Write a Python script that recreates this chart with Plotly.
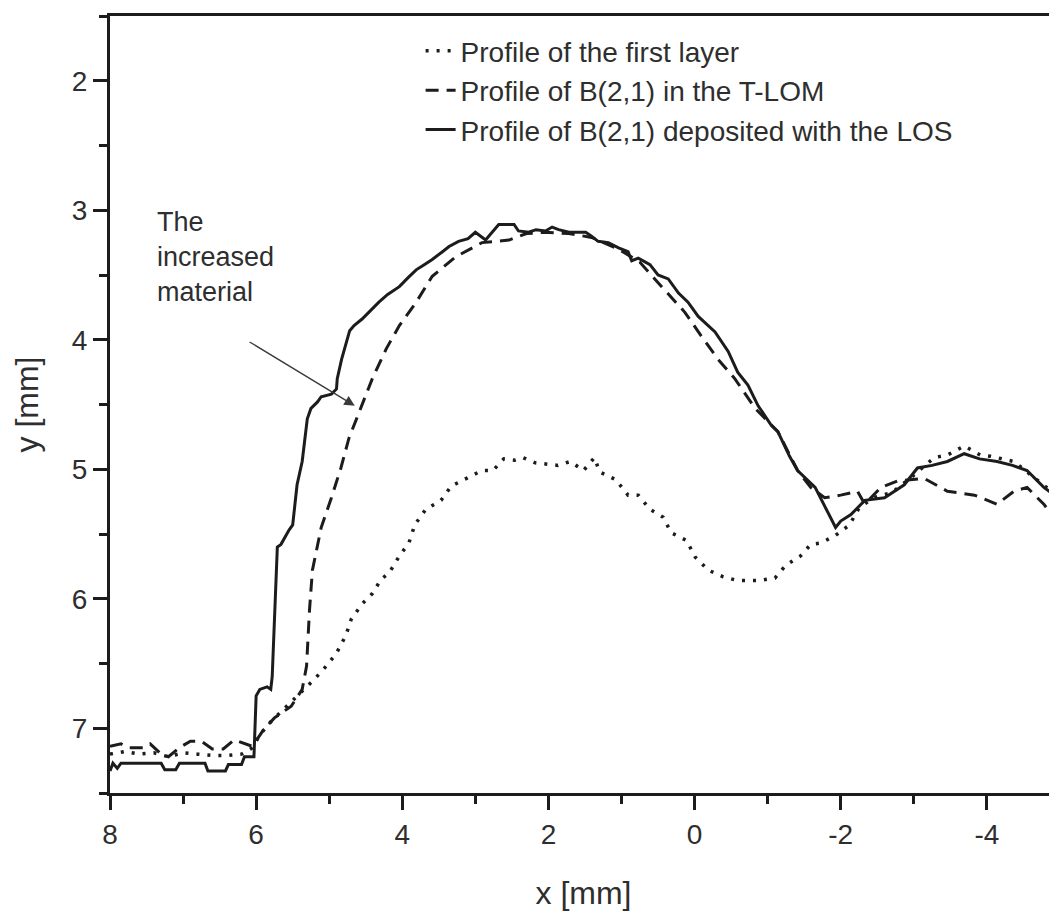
import plotly.graph_objects as go

# ---- data ----
los_x = [8.00, 7.96, 7.90, 7.85, 7.30, 7.25, 7.10, 7.05, 6.70, 6.66, 6.42, 6.38, 6.20, 6.16, 6.03,
         6.00, 5.95, 5.85, 5.80, 5.78, 5.71, 5.66, 5.55, 5.50, 5.44, 5.37, 5.30, 5.25, 5.16, 5.11,
         4.97, 4.90, 4.89, 4.83, 4.72, 4.66, 4.55, 4.45, 4.32, 4.20, 4.04, 3.92, 3.81, 3.70, 3.59,
         3.45, 3.36, 3.23, 3.10, 3.00, 2.86, 2.68, 2.47, 2.41, 2.27, 2.17, 2.04, 1.95, 1.86, 1.72,
         1.49, 1.41, 1.32, 1.18, 1.04, 0.91, 0.86, 0.77, 0.61, 0.50, 0.36, 0.22, 0.09, -0.05, -0.16,
         -0.28, -0.46, -0.59, -0.73, -0.87, -1.05, -1.14, -1.30, -1.41, -1.65, -1.80, -1.93, -2.00,
         -2.14, -2.33, -2.60, -2.87, -3.05, -3.25, -3.46, -3.69, -3.90, -4.14, -4.35, -4.55, -4.78, -4.95]
los_y = [7.33, 7.27, 7.31, 7.27, 7.27, 7.32, 7.32, 7.27, 7.27, 7.33, 7.33, 7.28, 7.28, 7.22, 7.22,
         6.75, 6.70, 6.68, 6.70, 6.60, 5.60, 5.58, 5.47, 5.43, 5.12, 4.94, 4.61, 4.53, 4.48, 4.44,
         4.42, 4.38, 4.30, 4.15, 3.93, 3.89, 3.84, 3.78, 3.71, 3.65, 3.59, 3.52, 3.46, 3.42, 3.38,
         3.32, 3.28, 3.24, 3.22, 3.17, 3.23, 3.11, 3.11, 3.16, 3.17, 3.15, 3.16, 3.13, 3.15, 3.17,
         3.17, 3.20, 3.24, 3.25, 3.29, 3.32, 3.39, 3.37, 3.42, 3.50, 3.53, 3.64, 3.71, 3.82, 3.88,
         3.94, 4.09, 4.25, 4.35, 4.51, 4.66, 4.71, 4.90, 5.01, 5.14, 5.30, 5.45, 5.40,
         5.35, 5.24, 5.22, 5.12, 4.99, 4.97, 4.94, 4.88, 4.92, 4.94, 4.97, 5.01, 5.14, 5.21]

tlom_x = [8.00, 7.85, 7.75, 7.55, 7.45, 7.30, 7.20, 7.05, 6.90, 6.75, 6.60, 6.45, 6.30, 6.15, 6.05,
          5.91, 5.75, 5.52, 5.37, 5.31, 5.27, 5.23, 5.11, 4.97, 4.84, 4.73, 4.56, 4.41, 4.22, 4.04,
          3.81, 3.59, 3.27, 2.91, 2.71, 2.54, 2.30, 2.04, 1.72, 1.41, 1.04, 0.75, 0.45, 0.13, -0.09,
          -0.32, -0.55, -0.83, -1.14, -1.41, -1.59, -1.78, -2.00, -2.23, -2.33, -2.55, -2.78, -3.14,
          -3.46, -3.83, -4.14, -4.37, -4.55, -4.78, -4.95]
tlom_y = [7.14, 7.12, 7.15, 7.15, 7.12, 7.20, 7.22, 7.15, 7.10, 7.10, 7.16, 7.16, 7.09, 7.12, 7.14,
          7.02, 6.92, 6.83, 6.70, 6.52, 6.09, 5.78, 5.45, 5.22, 4.99, 4.76, 4.51, 4.30, 4.07, 3.89,
          3.71, 3.51, 3.36, 3.25, 3.24, 3.23, 3.18, 3.17, 3.18, 3.21, 3.30, 3.40, 3.59, 3.79, 3.97,
          4.15, 4.30, 4.53, 4.71, 5.01, 5.14, 5.22, 5.20, 5.17, 5.27, 5.14, 5.09, 5.07,
          5.17, 5.20, 5.27, 5.17, 5.14, 5.27, 5.40]

first_x = [8.00, 7.80, 7.60, 7.40, 7.20, 7.00, 6.80, 6.60, 6.40, 6.20, 6.05, 5.95, 5.80, 5.60, 5.41,
           5.20, 5.04, 4.90, 4.77, 4.70, 4.55, 4.41, 4.29, 4.18, 4.04, 3.91, 3.83, 3.68, 3.47, 3.33,
           3.12, 2.91, 2.76, 2.61, 2.46, 2.35, 2.18, 2.04, 1.87, 1.70, 1.52, 1.37, 1.30, 1.08, 0.91,
           0.77, 0.61, 0.43, 0.32, 0.11, -0.01, -0.19, -0.39, -0.59, -0.87, -1.10, -1.25, -1.45,
           -1.59, -1.73, -1.93, -2.12, -2.25, -2.45, -2.70, -2.95, -3.28, -3.46, -3.69, -3.91, -4.05,
           -4.37, -4.60, -4.82, -4.95]
first_y = [7.20, 7.18, 7.20, 7.19, 7.22, 7.19, 7.20, 7.21, 7.21, 7.20, 7.15, 7.05, 6.95, 6.84, 6.73,
           6.62, 6.52, 6.42, 6.28, 6.16, 6.04, 5.96, 5.85, 5.80, 5.67, 5.57, 5.43, 5.31, 5.24, 5.13,
           5.07, 5.01, 5.01, 4.92, 4.93, 4.91, 4.95, 4.96, 4.97, 4.94, 5.01, 4.91, 5.02, 5.08, 5.20,
           5.20, 5.31, 5.37, 5.49, 5.55, 5.68, 5.78, 5.83, 5.86, 5.86, 5.84, 5.74, 5.67,
           5.58, 5.57, 5.51, 5.43, 5.30, 5.22, 5.18, 5.07, 4.91, 4.89, 4.82, 4.89, 4.90,
           4.94, 5.04, 5.14, 5.20]

names = ["Profile of the first layer",
         "Profile of B(2,1) in the T-LOM",
         "Profile of B(2,1) deposited with the LOS"]

x_ticks = [8, 6, 4, 2, 0, -2, -4]
y_ticks = [2, 3, 4, 5, 6, 7]

annot_text = "The<br>increased<br>material"

# ---- figure ----
INK = "#1c1c1c"
TXT = "#2e2e2e"
FONT = "Liberation Sans, Arial, sans-serif"

fig = go.Figure()
fig.add_trace(go.Scatter(x=first_x, y=first_y, mode="lines", name=names[0],
                         line=dict(color=INK, width=3.5, dash="3px,8px")))
fig.add_trace(go.Scatter(x=tlom_x, y=tlom_y, mode="lines", name=names[1],
                         line=dict(color=INK, width=3, dash="13px,8px")))
fig.add_trace(go.Scatter(x=los_x, y=los_y, mode="lines", name=names[2],
                         line=dict(color=INK, width=3)))

fig.add_annotation(x=7.38, y=2.96, xref="x", yref="y", text=annot_text, showarrow=False,
                   xanchor="left", yanchor="top", align="left",
                   font=dict(family=FONT, size=27, color=TXT))
fig.add_annotation(x=4.65, y=4.51, ax=6.11, ay=4.01, xref="x", yref="y", axref="x", ayref="y",
                   text="", showarrow=True, arrowhead=2, arrowsize=1.6, arrowwidth=1.3,
                   arrowcolor="#3a3a3a")

axis_common = dict(
    showline=True, linecolor=INK, linewidth=3,
    ticks="outside", ticklen=14, tickwidth=2.5, tickcolor=INK,
    showgrid=False, zeroline=False,
    tickfont=dict(family=FONT, size=28, color=TXT),
)

fig.update_xaxes(range=[8, -4.96], tickmode="array", tickvals=x_ticks,
                 ticktext=[str(v) for v in x_ticks], mirror=True,
                 minor=dict(ticks="outside", ticklen=8, tickwidth=2.5, tickcolor=INK, dtick=1,
                            showgrid=False),
                 title=dict(text="x [mm]", font=dict(family=FONT, size=32, color=TXT), standoff=34),
                 **axis_common)
fig.update_yaxes(range=[7.5, 1.5], tickmode="array", tickvals=y_ticks,
                 ticktext=[str(v) for v in y_ticks],
                 minor=dict(ticks="outside", ticklen=8, tickwidth=2.5, tickcolor=INK, dtick=0.5,
                            tick0=0, showgrid=False),
                 title=dict(text="y [mm]", font=dict(family=FONT, size=32, color=TXT), standoff=24),
                 **axis_common)

# the page body has an 8px default margin, so the figure is 8px smaller and margins compensate
fig.update_layout(
    width=1049, height=908,
    margin=dict(l=102, r=0, t=8, b=123, autoexpand=False),
    paper_bgcolor="white", plot_bgcolor="white",
    font=dict(family=FONT, color=TXT),
    showlegend=True,
    legend=dict(x=0.328, y=0.987, xanchor="left", yanchor="top",
                bgcolor="rgba(0,0,0,0)", borderwidth=0,
                font=dict(family=FONT, size=28, color=TXT), tracegroupgap=0),
)

fig.write_html("out.html")
